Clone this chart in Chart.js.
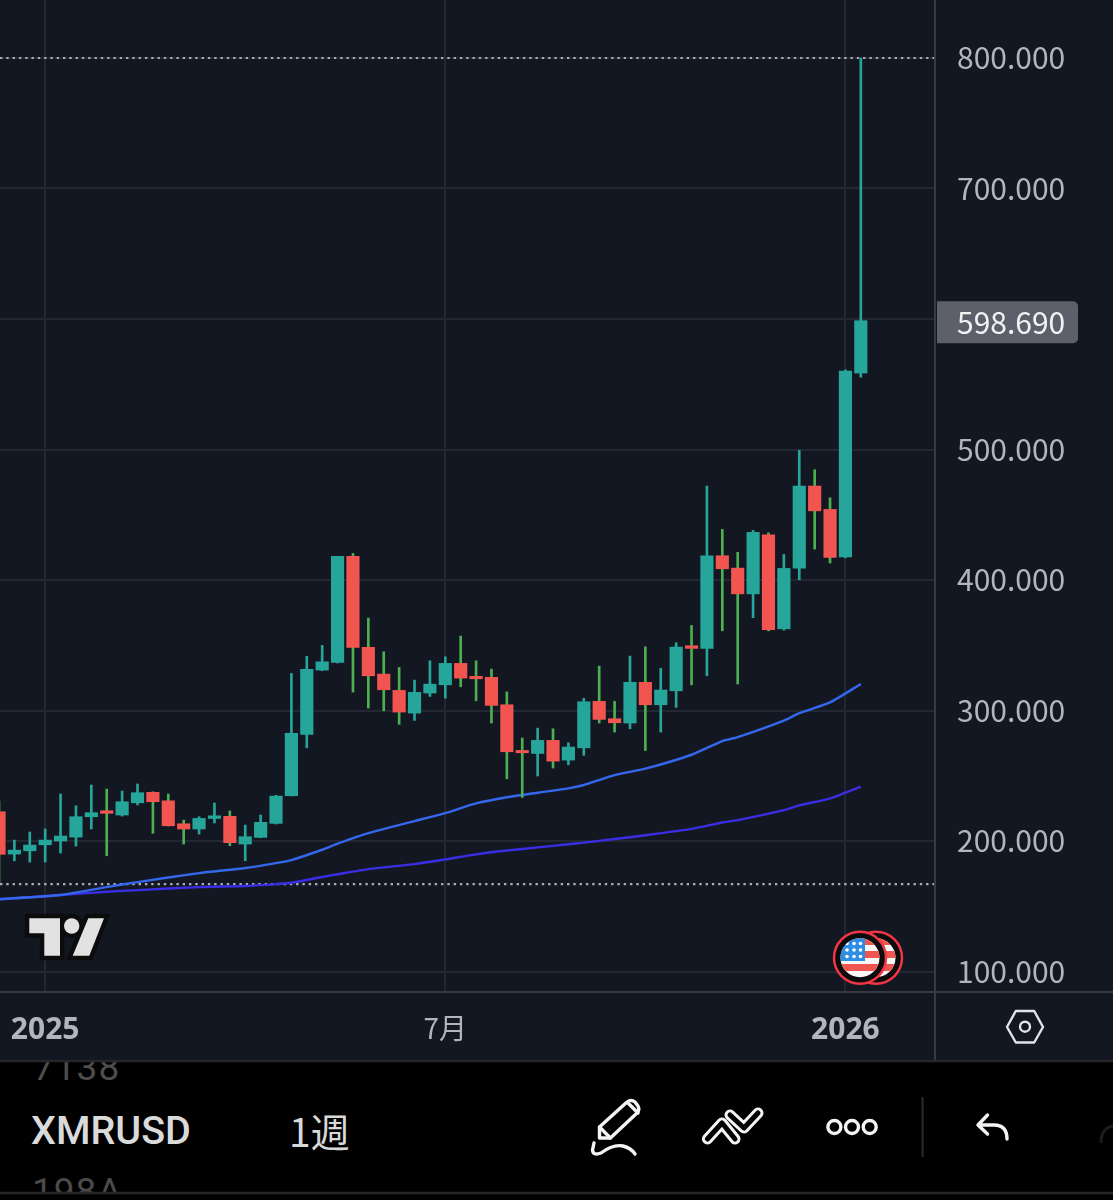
<!DOCTYPE html>
<html lang="ja">
<head>
<meta charset="utf-8">
<title>XMRUSD 1週</title>
<script src="https://cdn.jsdelivr.net/npm/chart.js@4/dist/chart.umd.min.js"></script>
<style>
html,body{margin:0;padding:0;background:#000;width:1113px;height:1200px;overflow:hidden}
#wrap{position:relative;width:1113px;height:1200px;background:#000;overflow:hidden}
#c{position:absolute;left:0;top:0;width:1113px;height:1200px}
#band{position:absolute;left:0;top:1061px;width:1113px;height:139px;background:#000}
svg{position:absolute;left:0;top:0}
.t{position:absolute;white-space:nowrap;line-height:1}
#sym{left:31px;top:1107px;font:500 39.5px Roboto,sans-serif;color:#dadada}
#tf{left:289px;top:1102px;font:400 39px "Noto Sans CJK JP",sans-serif;color:#d8d8d8}
.clip{position:absolute;overflow:hidden;left:0;width:300px}
#g1{top:1062px;height:24px}
#g2{top:1166px;height:26px}
#g1 span{position:absolute;left:33px;top:-16px;font:400 37px Roboto,sans-serif;letter-spacing:1px;color:#4d4d4d}
#g2 span{position:absolute;left:32px;top:4px;font:400 37px Roboto,sans-serif;letter-spacing:1px;color:#4a4a4a}
</style>
</head>
<body>
<div id="wrap">
<canvas id="c" width="1113" height="1200"></canvas>
<div id="band"></div>
<div class="clip" id="g1"><span>7138</span></div>
<div class="clip" id="g2"><span>198A</span></div>
<div class="t" id="sym">XMRUSD</div>
<div class="t" id="tf">1週</div>
<svg width="1113" height="1200" viewBox="0 0 1113 1200" fill="none">
  <!-- TradingView logo -->
  <g stroke="#0c0c0c" stroke-width="9" stroke-linejoin="miter" fill="#0c0c0c">
    <path d="M29.3 918.3H60V955.7H44.3V933.3H29.3Z"/><circle cx="71.7" cy="926" r="7.7"/><path d="M88.3 918.3H104L89.3 955.7H72.7Z"/>
  </g>
  <g fill="#e2e2e2">
    <path d="M29.3 918.3H60V955.7H44.3V933.3H29.3Z"/><circle cx="71.7" cy="926" r="7.7"/><path d="M88.3 918.3H104L89.3 955.7H72.7Z"/>
  </g>
  <!-- flag badges -->
  <defs>
    <clipPath id="fl"><circle cx="860" cy="957.7" r="19.5"/></clipPath>
    <clipPath id="fl2"><circle cx="876" cy="957.7" r="19.5"/></clipPath>
  </defs>
  <circle cx="876" cy="957.7" r="26" fill="#0c0c0c" stroke="#f23645" stroke-width="2.5"/>
  <g clip-path="url(#fl2)">
    <rect x="856" y="938" width="40" height="40" fill="#f7f7f7"/>
    <rect x="856" y="938" width="40" height="7" fill="#f0554f"/><rect x="856" y="951" width="40" height="7" fill="#f0554f"/><rect x="856" y="964" width="40" height="7" fill="#f0554f"/>
  </g>
  <circle cx="860" cy="957.7" r="26" fill="#0c0c0c" stroke="#f23645" stroke-width="2.5"/>
  <g clip-path="url(#fl)">
    <rect x="840" y="938" width="40" height="40" fill="#f7f7f7"/>
    <rect x="840" y="938" width="40" height="7" fill="#f0554f"/><rect x="840" y="951" width="40" height="7" fill="#f0554f"/><rect x="840" y="964" width="40" height="7" fill="#f0554f"/>
    <rect x="840" y="938" width="25" height="23" fill="#2f8de4"/>
    <g fill="#fff"><circle cx="847" cy="943.5" r="1.8"/><circle cx="854" cy="943.5" r="1.8"/><circle cx="860.5" cy="943.5" r="1.8"/><circle cx="847" cy="950" r="1.8"/><circle cx="854" cy="950" r="1.8"/><circle cx="860.5" cy="950" r="1.8"/><circle cx="847" cy="956.5" r="1.8"/><circle cx="854" cy="956.5" r="1.8"/><circle cx="860.5" cy="956.5" r="1.8"/></g>
  </g>
  <!-- settings hexagon -->
  <path d="M1015.8 1011H1034.2L1043 1027L1034.2 1042.5H1015.8L1007 1027Z" stroke="#e2e3e6" stroke-width="2.4" stroke-linejoin="round"/>
  <circle cx="1025" cy="1026.7" r="5" stroke="#e2e3e6" stroke-width="2.4"/>
  <!-- toolbar -->
  <g stroke="#f4f4f4" stroke-width="3.4" stroke-linejoin="round" stroke-linecap="round">
    <path d="M599.5 1127L627 1102Q631 1099 635 1102L638 1106Q640 1110 637 1113L610.4 1138H599.5Z"/>
    <path d="M599.5 1127L610.4 1138M628 1103L638 1113"/>
    <path d="M594 1143L592.5 1150Q593 1156 601 1153Q613 1144 623 1146Q631 1148 635 1154"/>
    <circle cx="834.4" cy="1127" r="6.5"/><circle cx="852" cy="1127" r="6.5"/><circle cx="869.7" cy="1127" r="6.5"/>
    <path d="M978 1125L987.5 1115M978 1125L987.5 1134M978 1125H994Q1007 1125 1007 1139"/>
  </g>
  <g stroke-linecap="round" stroke-linejoin="round">
    <path d="M707.4 1139L722 1123L735 1139M730 1115L744 1128L758 1113" stroke="#f4f4f4" stroke-width="11"/>
    <path d="M707.4 1139L722 1123L735 1139M730 1115L744 1128L758 1113" stroke="#000" stroke-width="5"/>
  </g>
  <path d="M922.6 1097V1157" stroke="#2b2b2b" stroke-width="2"/>
  <path d="M1101 1143Q1101 1128 1113 1126" stroke="#1c1c1c" stroke-width="3"/>
  <path d="M0 1193H1113" stroke="#262626" stroke-width="2.5"/>
  <path d="M0 1061H1113" stroke="#262626" stroke-width="2.5"/>
</svg>
</div>
<script>
// Candle values, oldest first (weekly XMRUSD)
const opens  = [222.4,190,192.5,197.1,200,203,218.6,223.2,219.9,229.3,237.3,230.8,213.2,209.2,217.3,218.9,197.7,202.8,213.5,234.7,281.7,331,336.9,418.1,348.4,327.9,315.4,298,313.4,319.7,336.1,326.2,325.4,304.4,269.4,267.1,277.1,262,271.4,307,293.7,290.4,321.6,304.4,315.1,349.6,347.6,418.6,409.1,389.4,434.7,362.6,409.1,472,454.1,417.6,558.6];
const closes = [189.8,193,196.9,200.7,203.8,218.6,221.7,221.2,230.1,237,230.1,211.7,209.2,217.3,219.3,198.7,203.3,214.3,234.4,282.5,331.5,337.3,418.1,348.4,326.6,315.9,298.8,313.9,320.2,336.1,324.8,324.3,303.9,268.4,267.6,277.1,261.2,272,306.7,293.2,290.6,321.6,304.4,315.7,348.6,347.6,418.6,408.6,389.4,436.5,361.9,408.9,472,453,417.3,560.1,598.69];
const highs  = [230.6,200.7,206.9,209.2,236,227,242.9,239.8,238.3,243.7,237.7,236,216,218.6,229.1,223,212.2,219.9,235,328.4,341.5,349.9,418.1,420.4,370.8,345,333,323.3,338.1,341.2,357,338.1,331.7,314.3,278.9,286.5,286,275.3,309.3,334,307,341.7,348.8,332.3,351.9,365.2,472,438.8,421.2,438,436.2,419.6,499.3,484.5,463,561,800];
const lows   = [167.8,184.9,183.9,183.9,190.8,196.1,209.2,188.7,219.1,227.6,205.9,211.5,197.7,205.3,213.8,196.4,184.9,202.5,213,234.5,271.4,330.5,336.4,314.1,301.9,299.8,289.4,292.4,310.8,309.5,318.2,307.5,290.4,247.7,233.4,249.8,255.9,258.4,265.6,290.4,283.5,286,269.4,283.5,302.4,319.7,326.6,361.1,320.3,371.1,361.1,361.6,400.2,423.7,413,417,555.5];

// Moving averages, read at these candle positions
const maIndex = [0,4,7,9,13,16,18,19,21,22,24,27,29,31,33,35,37,38,40,42,45,47,48,51,52,54,56];
const maFast  = [155.5,158.6,164.7,168.5,175.4,179.3,183.1,185.4,193.3,198,206.1,215.3,221.4,228.8,233.5,237,240.3,242.9,250.5,255.4,266.1,276.6,279.6,292.3,298,306.2,320.3];
const maSlow  = [155.3,158.6,161.1,162.4,164.7,165.5,167,168,172.4,174.5,178.5,182.3,185.9,189.8,192.7,195.1,197.5,198.8,201.5,204.4,209.3,214.2,216,223.7,227.3,232.7,241.7];

const priceTicks = [100,200,300,400,500,600,700,800];
const timeTickIndex = [3,29,55];
const timeTickLabels = ['2025','7月','2026'];
const rangeHigh = 800, rangeLow = 167;
const lastPrice = 598.69;

const xMin = 0.065, xMax = 60.82, yMin = 84.3, yMax = 844.44;
const TEAL = '#26a69a', RED = '#f2544f', GREEN = '#4caf50';
const isUp = i => closes[i] >= opens[i];
const idx = opens.map((_, i) => i);
const noPad = s => { s.paddingLeft = s.paddingRight = s.paddingTop = s.paddingBottom = 0; };

const furniture = {
  id: 'furniture',
  afterDraw(chart) {
    const c = chart.ctx, a = chart.chartArea;
    c.save();
    c.strokeStyle = '#363a45'; c.lineWidth = 2;
    c.beginPath();
    c.moveTo(0, a.bottom); c.lineTo(1113, a.bottom);
    c.moveTo(a.right, 0); c.lineTo(a.right, 1060);
    c.stroke();
    const y = chart.scales.y.getPixelForValue(lastPrice);
    c.fillStyle = '#5d606b';
    c.beginPath(); c.roundRect(a.right + 2, y - 19.5, 141, 42, [0, 5, 5, 0]); c.fill();
    c.fillStyle = '#f2f2f2';
    c.font = '400 30px "Noto Sans CJK JP", sans-serif';
    c.textAlign = 'left'; c.textBaseline = 'middle';
    c.fillText(lastPrice.toFixed(3), 957, y + 1.5);
    c.restore();
  }
};

new Chart(document.getElementById('c'), {
  type: 'bar',
  plugins: [furniture],
  data: {
    datasets: [
      { type:'line', data:[{x:xMin,y:rangeHigh},{x:xMax,y:rangeHigh}], borderColor:'#a9acb5', borderWidth:2.2, borderDash:[2.4,3.9], pointRadius:0, order:6 },
      { type:'line', data:[{x:xMin,y:rangeLow},{x:xMax,y:rangeLow}], borderColor:'#a9acb5', borderWidth:2.2, borderDash:[2.4,3.9], pointRadius:0, order:6 },
      { type:'line', data:maIndex.map((x,i)=>({x,y:maSlow[i]})), borderColor:'#3a2de4', borderWidth:2.4, pointRadius:0, tension:0.2, order:5 },
      { type:'line', data:maIndex.map((x,i)=>({x,y:maFast[i]})), borderColor:'#3467ec', borderWidth:2.4, pointRadius:0, tension:0.2, order:4 },
      { data:idx.map(i=>({x:i,y:[lows[i],highs[i]]})), backgroundColor:idx.map(i=>isUp(i)?TEAL:GREEN), barThickness:2, grouped:false, order:3 },
      { data:idx.map(i=>({x:i,y:[opens[i],closes[i]]})), backgroundColor:idx.map(i=>isUp(i)?TEAL:RED), barThickness:12.5, grouped:false, order:2 }
    ]
  },
  options: {
    responsive:false, animation:false, devicePixelRatio:1,
    layout:{padding:{left:0,right:0,top:0,bottom:140}},
    plugins:{legend:{display:false},tooltip:{enabled:false}},
    scales:{
      x:{
        type:'linear', min:xMin, max:xMax, offset:false, position:'bottom',
        afterBuildTicks(s){ s.ticks = timeTickIndex.map(v=>({value:v})); },
        afterFit(s){ s.height = 68; noPad(s); },
        grid:{color:'#232732',lineWidth:2,offset:false,drawTicks:false},
        border:{display:false},
        ticks:{
          autoSkip:false,maxRotation:0,padding:20,color:'#b2b5be',
          callback:v=>timeTickLabels[timeTickIndex.indexOf(v)],
          font:ctx=>ctx.index===1?{family:'"Noto Sans CJK JP"',size:28,weight:'400'}:{family:'"Noto Sans"',size:30,weight:'700'}
        }
      },
      y:{
        type:'linear', min:yMin, max:yMax, position:'right',
        afterBuildTicks(s){ s.ticks = priceTicks.map(v=>({value:v})); },
        afterFit(s){ s.width = 178; noPad(s); },
        grid:{color:'#232732',lineWidth:2,drawTicks:false},
        border:{display:false},
        ticks:{
          autoSkip:false,padding:22,color:'#b2b5be',
          callback:v=>v.toFixed(3),
          font:{family:'"Noto Sans CJK JP"',size:30,weight:'400'}
        }
      }
    }
  }
});
document.getElementById('c').style.background = '#131722';
</script>
</body>
</html>
